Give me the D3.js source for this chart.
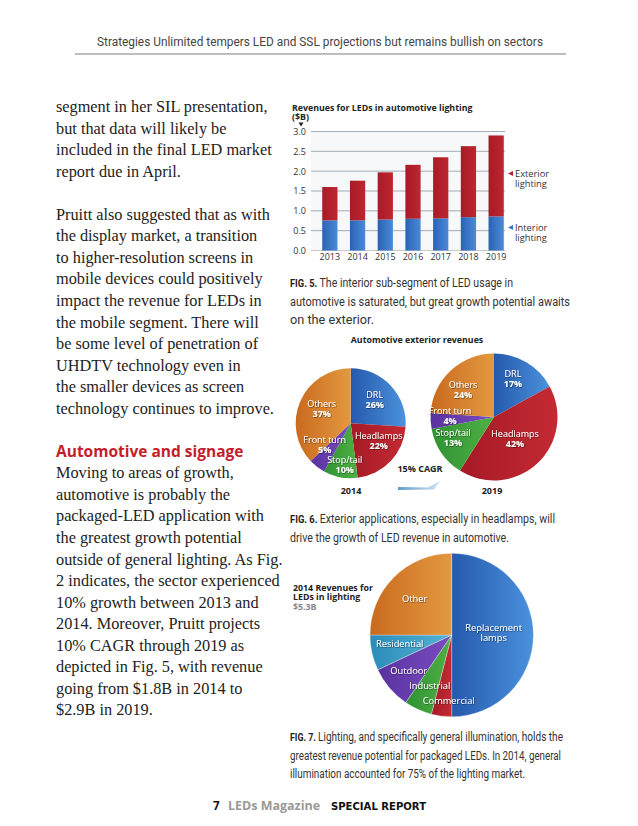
<!DOCTYPE html>
<html><head><meta charset="utf-8">
<script src="https://cdn.jsdelivr.net/npm/d3@7"></script>
<style>
html,body{margin:0;padding:0;background:#fff;}
svg{display:block;}
</style></head>
<body>
<svg id="page" width="638" height="826"></svg>
<script>
// ---------- DATA ----------
const years = ["2013","2014","2015","2016","2017","2018","2019"];
const interior = [0.76,0.76,0.78,0.80,0.81,0.84,0.86];
const exterior = [0.84,1.00,1.19,1.36,1.54,1.79,2.04];
const yTicks = [0,0.5,1.0,1.5,2.0,2.5,3.0];

const pieLabels = ["DRL","Headlamps","Stop/tail","Front turn","Others"];
const pie2014 = [26,22,10,5,37];
const pie2019 = [17,42,13,4,24];

const lightLabels = ["Replacement lamps","Commercial","Industrial","Outdoor","Residential","Other"];
const lightValues = [50,4,5.5,8.5,7,25];

const bodyLines = [
 "segment in her SIL presentation,",
 "but that data will likely be",
 "included in the final LED market",
 "report due in April.",
 "",
 "Pruitt also suggested that as with",
 "the display market, a transition",
 "to higher-resolution screens in",
 "mobile devices could positively",
 "impact the revenue for LEDs in",
 "the mobile segment. There will",
 "be some level of penetration of",
 "UHDTV technology even in",
 "the smaller devices as screen",
 "technology continues to improve.",
 "",
 "#Automotive and signage",
 "Moving to areas of growth,",
 "automotive is probably the",
 "packaged-LED application with",
 "the greatest growth potential",
 "outside of general lighting. As Fig.",
 "2 indicates, the sector experienced",
 "10% growth between 2013 and",
 "2014. Moreover, Pruitt projects",
 "10% CAGR through 2019 as",
 "depicted in Fig. 5, with revenue",
 "going from $1.8B in 2014 to",
 "$2.9B in 2019."
];

const cap5 = [["FIG. 5.","The interior sub-segment of LED usage in"],["","automotive is saturated, but great growth potential awaits"],["","on the exterior."]];
const cap6 = [["FIG. 6.","Exterior applications, especially in headlamps, will"],["","drive the growth of LED revenue in automotive."]];
const cap7 = [["FIG. 7.","Lighting, and specifically general illumination, holds the"],["","greatest revenue potential for packaged LEDs. In 2014, general"],["","illumination accounted for 75% of the lighting market."]];

// layout: caption line widths (px) as printed
const cap5W = [223,280,84];
const cap6W = [265,219];
const cap7W = [273,271,235];

// ---------- SETUP ----------
const svg = d3.select("#page");
const defs = svg.append("defs");
const SANS = "'Open Sans','DejaVu Sans',sans-serif";
const COND = "Roboto,'Open Sans',sans-serif";
const SERIF = "'Liberation Serif','DejaVu Serif',serif";

function lin(id, c1, c2, x2="1", y2="0"){
  const g = defs.append("linearGradient").attr("id",id).attr("x1","0").attr("y1","0").attr("x2",x2).attr("y2",y2);
  g.append("stop").attr("offset","0").attr("stop-color",c1);
  g.append("stop").attr("offset","1").attr("stop-color",c2);
}
lin("gBlue","#2559ad","#4b92dc");
lin("gRed","#a51a26","#c42a33");
lin("gGreen","#2f9233","#4fb143");
lin("gPurple","#5a33a0","#7a4cc0");
lin("gOrange","#c96a1f","#e3993f");
lin("gTeal","#2b8cb8","#56b3d6");
lin("gBarBlue","#2a62b6","#4a8ad6");
lin("gBarRed","#a81b27","#bd2630");
lin("gArrow","#5f9cc9","#cfe3f1","1","0");
const sh = defs.append("filter").attr("id","tsh").attr("x","-20%").attr("y","-20%").attr("width","140%").attr("height","140%");
sh.append("feDropShadow").attr("dx",0.6).attr("dy",0.6).attr("stdDeviation",0.5).attr("flood-color","#000").attr("flood-opacity",0.6);

// ---------- HEADER ----------
svg.append("text").attr("x",97).attr("y",46)
  .attr("font-family",COND).attr("font-size",12.5).attr("fill","#444")
  .attr("textLength",446).attr("lengthAdjust","spacingAndGlyphs")
  .text("Strategies Unlimited tempers LED and SSL projections but remains bullish on sectors");
svg.append("line").attr("x1",75).attr("x2",566).attr("y1",54).attr("y2",54).attr("stroke","#bdbdbd").attr("stroke-width",2);

// ---------- BODY TEXT ----------
const body = svg.append("g");
bodyLines.forEach((t,i)=>{
  const y = 112 + i*21.55;
  if(!t) return;
  if(t.startsWith("#")){
    body.append("text").attr("x",56).attr("y",y).attr("font-family",SANS).attr("font-weight","bold")
      .attr("font-size",15.5).attr("fill","#c41e2a").text(t.slice(1));
  } else {
    body.append("text").attr("x",56).attr("y",y).attr("font-family",SERIF)
      .attr("font-size",16.3).attr("fill","#222").text(t);
  }
});

// ---------- BAR CHART ----------
const bc = svg.append("g");
const y = d3.scaleLinear().domain([0,3]).range([250.5,131.5]);
const x = d3.scaleBand().domain(years).range([316,510]).paddingInner(0.45).paddingOuter(0.225);
bc.append("text").attr("x",292).attr("y",110.5).attr("font-family",SANS).attr("font-weight","bold").attr("font-size",8.8).attr("fill","#222")
  .text("Revenues for LEDs in automotive lighting");
bc.append("text").attr("x",292).attr("y",119.5).attr("font-family",SANS).attr("font-weight","bold").attr("font-size",8.8).attr("fill","#222").text("($B)");
bc.append("path").attr("d","M298.5,122.5 L303.5,122.5 L301,126.5 Z").attr("fill","#222");
bc.append("rect").attr("x",311).attr("y",y(3)).attr("width",194).attr("height",y(0)-y(3)).attr("fill","#f6f8fa");
bc.selectAll(".grid").data(yTicks).join("line").attr("x1",311).attr("x2",505)
  .attr("y1",d=>y(d)).attr("y2",d=>y(d)).attr("stroke",d=>d===0?"#bbb":"#8e9ba6").attr("stroke-width",0.8);
const yAxis = d3.axisLeft(y).tickValues(yTicks).tickFormat(d3.format(".1f")).tickSize(0).tickPadding(3);
const ya = bc.append("g").attr("transform","translate(309,0)").call(yAxis);
ya.select(".domain").remove();
ya.selectAll("text").attr("font-family",SANS).attr("font-size",9).attr("fill","#333");
const xAxis = d3.axisBottom(x).tickSize(0).tickPadding(3);
const xa = bc.append("g").attr("transform","translate(0,251)").call(xAxis);
xa.select(".domain").remove();
xa.selectAll("text").attr("font-family",SANS).attr("font-size",9).attr("fill","#333");
bc.selectAll(".bi").data(years).join("rect").attr("x",d=>x(d)).attr("width",x.bandwidth())
  .attr("y",(d,i)=>y(interior[i])).attr("height",(d,i)=>y(0)-y(interior[i])).attr("fill","url(#gBarBlue)");
bc.selectAll(".be").data(years).join("rect").attr("x",d=>x(d)).attr("width",x.bandwidth())
  .attr("y",(d,i)=>y(interior[i]+exterior[i])).attr("height",(d,i)=>y(interior[i])-y(interior[i]+exterior[i])).attr("fill","url(#gBarRed)");
// legend
const lg = [["Exterior","lighting","#b3202c",177],["Interior","lighting","#3a78c8",231]];
lg.forEach(l=>{
  bc.append("path").attr("d",`M508,${l[3]-3.5} L513,${l[3]-6} L513,${l[3]-1} Z`).attr("fill",l[2]);
  bc.append("text").attr("x",515).attr("y",l[3]).attr("font-family",SANS).attr("font-size",9.3).attr("fill","#333").text(l[0]);
  bc.append("text").attr("x",515).attr("y",l[3]+10).attr("font-family",SANS).attr("font-size",9.3).attr("fill","#333").text(l[1]);
});

// ---------- CAPTIONS ----------
function caption(lines, widths, y0){
  lines.forEach((l,i)=>{
    const t = svg.append("text").attr("x",290).attr("y",y0+i*18.5).attr("font-family",COND).attr("font-size",12.5).attr("fill","#333")
      .attr("textLength",widths[i]).attr("lengthAdjust","spacingAndGlyphs");
    if(l[0]) t.append("tspan").attr("font-weight","bold").attr("font-size",11).attr("fill","#222").text(l[0]+" ");
    t.append("tspan").text(l[1]);
  });
}
caption(cap5, cap5W, 287);
caption(cap6, cap6W, 523);
caption(cap7, cap7W, 741);

// ---------- PIE CHARTS (Fig. 6) ----------
const pieCols = ["url(#gBlue)","url(#gRed)","url(#gGreen)","url(#gPurple)","url(#gOrange)"];
const pie = d3.pie().sort(null).value(d=>d);
function drawPie(vals, cx, cy, r, labelPos){
  const g = svg.append("g").attr("transform",`translate(${cx},${cy})`);
  const arc = d3.arc().innerRadius(0).outerRadius(r);
  g.selectAll("path").data(pie(vals)).join("path").attr("d",arc).attr("fill",(d,i)=>pieCols[i]);
  pie(vals).forEach((d,i)=>{
    const [lx,ly] = labelPos[i];
    const t = g.append("text").attr("text-anchor","middle").attr("font-family",SANS).attr("font-size",9).attr("fill","#fff").attr("filter","url(#tsh)");
    t.append("tspan").attr("x",lx).attr("y",ly).text(pieLabels[i]);
    t.append("tspan").attr("x",lx).attr("y",ly+10).attr("font-weight","bold").text(vals[i]+"%");
  });
}
svg.append("text").attr("x",417).attr("y",343).attr("text-anchor","middle").attr("font-family",SANS).attr("font-weight","bold").attr("font-size",8.8).attr("fill","#222").text("Automotive exterior revenues");
drawPie(pie2014, 350.7, 423.3, 55, [[24,-25],[28,16],[-6,40],[-26,20],[-29,-16]]);
drawPie(pie2019, 494, 417, 63.5, [[19,-40],[21,20],[-41,19],[-44,-3],[-31,-29]]);
svg.append("text").attr("x",420).attr("y",472).attr("text-anchor","middle").attr("font-family",SANS).attr("font-weight","bold").attr("font-size",9).attr("fill","#222").text("15% CAGR");
svg.append("text").attr("x",351).attr("y",494).attr("text-anchor","middle").attr("font-family",SANS).attr("font-weight","bold").attr("font-size",9).attr("fill","#222").text("2014");
svg.append("text").attr("x",492).attr("y",494).attr("text-anchor","middle").attr("font-family",SANS).attr("font-weight","bold").attr("font-size",9).attr("fill","#222").text("2019");
svg.append("path").attr("d","M398,487 L428,487.5 L440,481 L434,489.5 L398,490 Z").attr("fill","url(#gArrow)");

// ---------- LIGHTING PIE (Fig. 7) ----------
const lightCols = ["url(#gBlue)","url(#gRed)","url(#gGreen)","url(#gPurple)","url(#gTeal)","url(#gOrange)"];
const lcx = 451.7, lcy = 635, lr = 81.7;
const lgp = svg.append("g").attr("transform",`translate(${lcx},${lcy})`);
const larc = d3.arc().innerRadius(0).outerRadius(lr);
lgp.selectAll("path").data(pie(lightValues)).join("path").attr("d",larc).attr("fill",(d,i)=>lightCols[i])
  .attr("stroke","#fff").attr("stroke-width",0.3);
const lpos = [[42,-4],[-3,69],[-22,54],[-43,39],[-52,12],[-37,-33]];
lightLabels.forEach((lab,i)=>{
  const t = lgp.append("text").attr("text-anchor","middle").attr("font-family",SANS).attr("font-size",9.3).attr("fill","#fff").attr("filter","url(#tsh)");
  if(i===0){
    t.append("tspan").attr("x",lpos[i][0]).attr("y",lpos[i][1]).text("Replacement");
    t.append("tspan").attr("x",lpos[i][0]).attr("y",lpos[i][1]+10).text("lamps");
  } else {
    t.append("tspan").attr("x",lpos[i][0]).attr("y",lpos[i][1]).text(lab);
  }
});
svg.append("text").attr("x",293).attr("y",590.5).attr("font-family",SANS).attr("font-weight","bold").attr("font-size",8.8).attr("fill","#222").text("2014 Revenues for");
svg.append("text").attr("x",293).attr("y",599.5).attr("font-family",SANS).attr("font-weight","bold").attr("font-size",8.8).attr("fill","#222").text("LEDs in lighting");
svg.append("text").attr("x",293).attr("y",610).attr("font-family",SANS).attr("font-weight","bold").attr("font-size",8.8).attr("fill","#888").text("$5.3B");

// ---------- FOOTER ----------
svg.append("text").attr("x",213).attr("y",810).attr("font-family",SANS).attr("font-weight","bold").attr("font-size",11.5).attr("fill","#111").text("7");
svg.append("text").attr("x",228).attr("y",810).attr("font-family",SANS).attr("font-weight","bold").attr("font-size",11.5).attr("fill","#999")
  .attr("textLength",92).attr("lengthAdjust","spacingAndGlyphs").text("LEDs Magazine");
svg.append("text").attr("x",331).attr("y",810).attr("font-family","'DejaVu Sans',sans-serif").attr("font-weight","bold").attr("font-size",10).attr("fill","#111")
  .attr("textLength",95).attr("lengthAdjust","spacingAndGlyphs").text("SPECIAL REPORT");
</script>
</body></html>
